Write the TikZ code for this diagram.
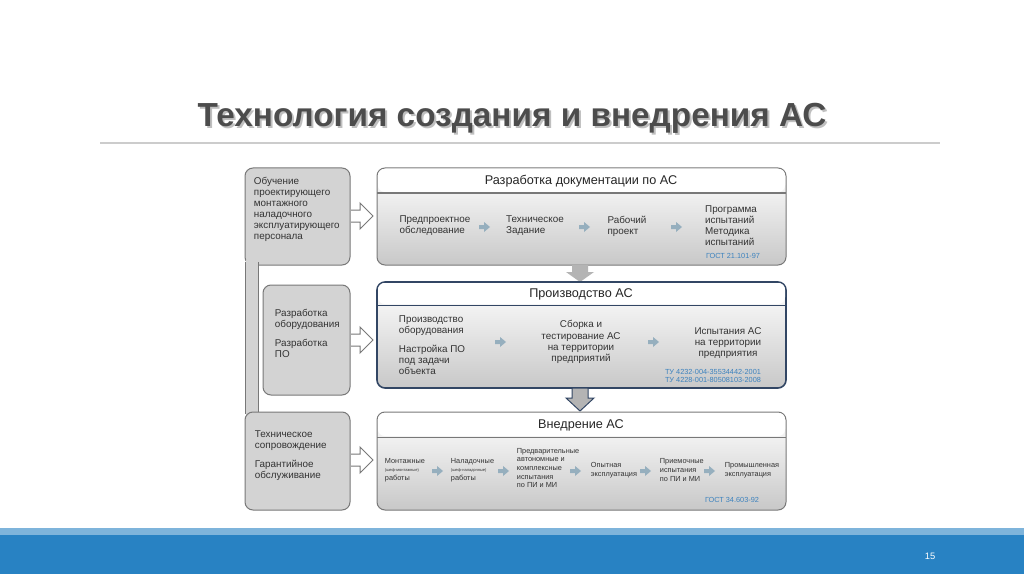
\documentclass[tikz,border=0pt]{standalone}
\usepackage{fontspec}
\setmainfont{Liberation Sans}
\usetikzlibrary{positioning}
\definecolor{boxgray}{RGB}{200,200,200}
\definecolor{edgegray}{RGB}{120,120,120}
\definecolor{arrowblue}{RGB}{150,175,190}
\definecolor{gostblue}{RGB}{60,130,190}
\definecolor{bandblue}{RGB}{40,130,195}
\definecolor{frameblue}{RGB}{50,70,100}
\tikzset{every picture/.style={line width=0.75pt}}
\tikzset{
  stage/.style={draw=edgegray,rounded corners=6pt,top color=white,bottom color=boxgray},
  side/.style={draw=edgegray,rounded corners=6pt,fill=boxgray!80},
  txt/.style={align=left,font=\fontsize{7.4}{8.3}\selectfont,text=black!80},
  head/.style={font=\fontsize{9.5}{11}\selectfont,text=black!85},
  gost/.style={font=\fontsize{5.5}{6.5}\selectfont,text=gostblue,align=left},
  minor/.style={font=\fontsize{3}{3.5}\selectfont,text=black!70}
}
\newcommand{\smallarrow}[2]{\fill[arrowblue] (#1-5,#2-2) -- (#1,#2-2) -- (#1,#2-5) -- (#1+6,#2) -- (#1,#2+5) -- (#1,#2+2) -- (#1-5,#2+2) -- cycle;}
\newcommand{\sidearrow}[1]{\draw[edgegray,fill=white] (351,#1-6) -- (360,#1-6) -- (360,#1-13) -- (373,#1) -- (360,#1+13) -- (360,#1+6) -- (351,#1+6);}
\begin{document}
\begin{tikzpicture}[x=0.75pt,y=0.75pt,yscale=-1,xscale=1]
\useasboundingbox (0,0) rectangle (1024,574);
\fill[white] (0,0) rectangle (1024,574);

% Title
\node[text=black!25] (shadow) at (514,120) {\fontsize{25}{30}\selectfont\bfseries Технология создания и внедрения АС};
\node (title) at (512,118) {\fontsize{25}{30}\selectfont\bfseries\color{black!70}Технология создания и внедрения АС};
\draw[black!20,line width=1pt] (100,143) -- (940,143);

% Left column
\draw[side] (245,168) rectangle (350,265);
\fill[boxgray!80] (246,260) rectangle (258,416);
\draw[edgegray] (245,262) -- (245,414) (258,262) -- (258,414);
\draw[side] (245,412) rectangle (350,510);
\draw[side] (263,285) rectangle (350,395);
\node[txt,anchor=north west] (learn) at (249,172) {Обучение\\проектирующего\\монтажного\\наладочного\\эксплуатирующего\\персонала};
\node[txt,anchor=north west] (dev) at (270,304) {Разработка\\оборудования\\[6pt]Разработка\\ПО};
\node[txt,anchor=north west] (supp) at (250,426) {Техническое\\сопровождение\\[6pt]Гарантийное\\обслуживание};
\sidearrow{216}
\sidearrow{340}
\sidearrow{460}

% Stage 1
\draw[stage] (377,168) rectangle (786,265);
\draw[edgegray] (377,193) -- (786,193);
\fill[white,rounded corners=5pt] (378,169) rectangle (785,192);
\node[head] (doc) at (581,181) {Разработка документации по АС};
\node[txt] (pre) at (435,226) {Предпроектное\\обследование};
\node[txt] (tz) at (535,226) {Техническое\\Задание};
\node[txt] (rp) at (627,226) {Рабочий\\проект};
\node[txt] (prog) at (731,226) {Программа\\испытаний\\Методика\\испытаний};
\node[gost] (g1) at (733,256) {ГОСТ 21.101-97};
\smallarrow{484}{227}
\smallarrow{584}{227}
\smallarrow{676}{227}

% down arrow 1
\fill[boxgray!90!black] (572,265) -- (588,265) -- (588,272) -- (594,272) -- (580,282) -- (566,272) -- (572,272) -- cycle;

% Stage 2
\draw[stage,draw=frameblue,line width=1.2pt] (377,282) rectangle (786,388);
\draw[frameblue] (377,305) -- (786,305);
\fill[white,rounded corners=5pt] (378,283) rectangle (785,304);
\node[head] (prod) at (581,294) {Производство АС};
\node[txt] (equip) at (432,345) {Производство\\оборудования\\[6pt]Настройка ПО\\под задачи\\объекта};
\node[txt,align=center] (build) at (581,342) {Сборка и\\тестирование АС\\на территории\\предприятий};
\node[txt,align=center] (test) at (728,343) {Испытания АС\\на территории\\предприятия};
\node[gost] (g2) at (713,376) {ТУ 4232-004-35534442-2001\\ТУ 4228-001-80508103-2008};
\smallarrow{500}{342}
\smallarrow{653}{342}

% down arrow 2
\draw[frameblue,fill=boxgray!90!black] (572,388) -- (588,388) -- (588,398) -- (594,398) -- (580,411) -- (566,398) -- (572,398) -- cycle;

% Stage 3
\draw[stage] (377,412) rectangle (786,510);
\draw[edgegray] (377,437) -- (786,437);
\fill[white,rounded corners=5pt] (378,413) rectangle (785,436);
\node[head] (impl) at (581,425) {Внедрение АС};
\node[txt,font=\fontsize{5.5}{6.5}\selectfont,anchor=west] (mont) at (380,470) {Монтажные\\{\fontsize{3}{4}\selectfont(шеф-монтажные)}\\работы};
\node[txt,font=\fontsize{5.5}{6.5}\selectfont,anchor=west] (nal) at (446,470) {Наладочные\\{\fontsize{3}{4}\selectfont(шеф-наладочные)}\\работы};
\node[txt,font=\fontsize{5.5}{6.5}\selectfont,anchor=west] (prel) at (512,468) {Предварительные\\автономные и\\комплексные\\испытания\\по ПИ и МИ};
\node[txt,font=\fontsize{5.5}{6.5}\selectfont,anchor=west] (opyt) at (586,470) {Опытная\\эксплуатация};
\node[txt,font=\fontsize{5.5}{6.5}\selectfont,anchor=west] (prim) at (655,470) {Приемочные\\испытания\\по ПИ и МИ};
\node[txt,font=\fontsize{5.5}{6.5}\selectfont,anchor=west] (prom) at (720,470) {Промышленная\\эксплуатация};
\node[gost] (g3) at (732,500) {ГОСТ 34.603-92};
\smallarrow{437}{471}
\smallarrow{503}{471}
\smallarrow{575}{471}
\smallarrow{645}{471}
\smallarrow{709}{471}

% bottom band
\fill[bandblue!60] (0,528) rectangle (1024,535);
\fill[bandblue] (0,535) rectangle (1024,574);
\node[text=white,font=\fontsize{7}{8}\selectfont] (page) at (930,556) {15};
\end{tikzpicture}
\end{document}
